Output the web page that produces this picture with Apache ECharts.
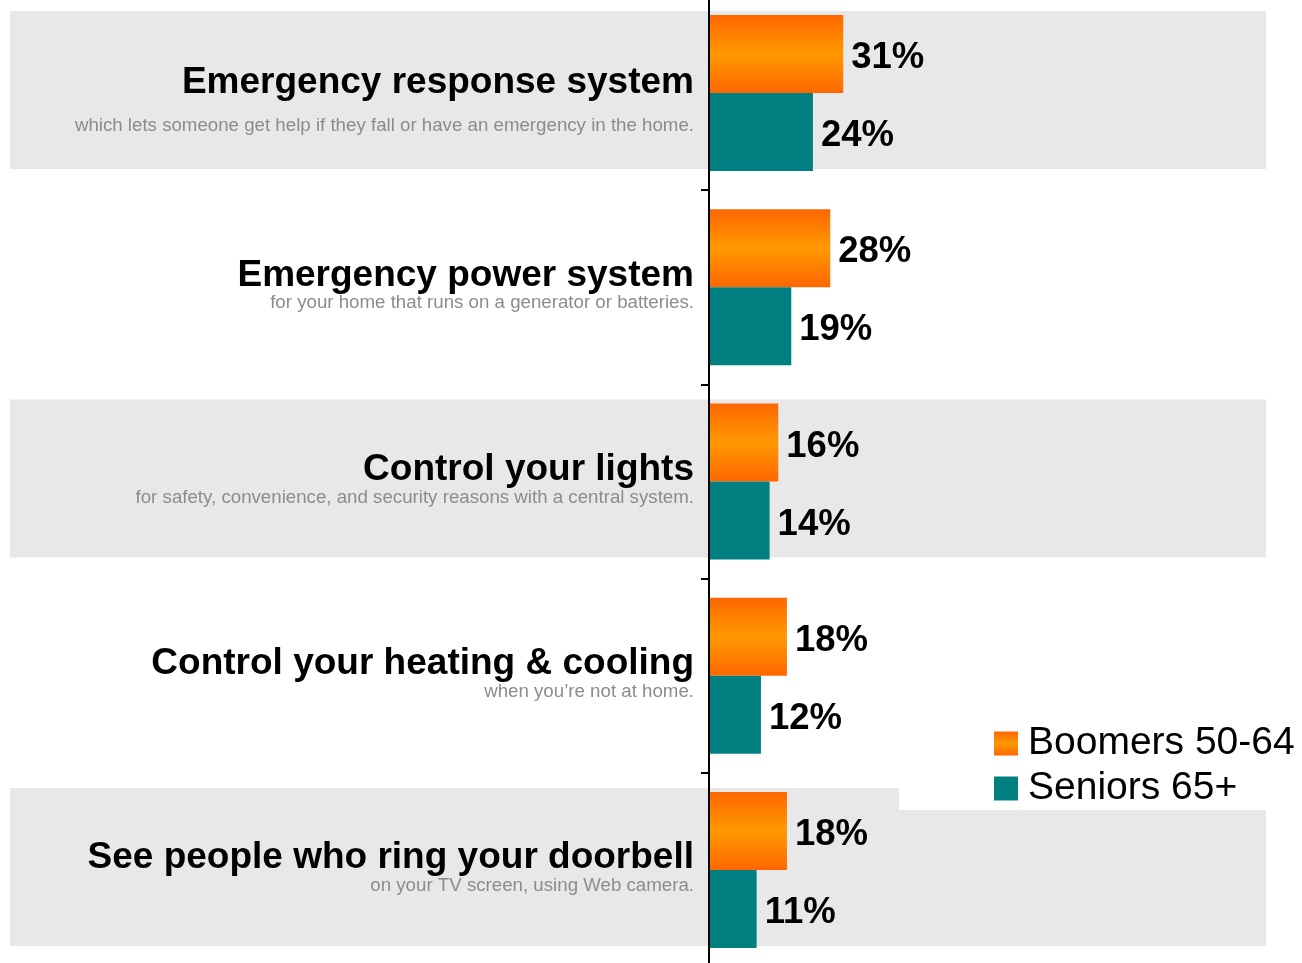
<!DOCTYPE html>
<html>
<head>
<meta charset="utf-8">
<script src="https://cdn.jsdelivr.net/npm/echarts@6/dist/echarts.min.js"></script>
<style>
  html, body { margin: 0; padding: 0; background: #fff; overflow: hidden; }
  /* the drawing surface runs a few pixels past the window at top and bottom */
  #chart { position: absolute; left: 0; top: -8px; width: 1302px; height: 979px; }
</style>
</head>
<body>
<div id="chart"></div>
<script>
// Smart-home features people would like to have, by age group (percent)
const titles = [
  'Emergency response system',
  'Emergency power system',
  'Control your lights',
  'Control your heating & cooling',
  'See people who ring your doorbell'
];
const subtitles = [
  'which lets someone get help if they fall or have an emergency in the home.',
  'for your home that runs on a generator or batteries.',
  'for safety, convenience, and security reasons with a central system.',
  'when you\u2019re not at home.',
  'on your TV screen, using Web camera.'
];
const boomers = [31, 28, 16, 18, 18];
const seniors = [24, 19, 14, 12, 11];
const seriesNames = ['Boomers 50-64', 'Seniors 65+'];
// alternate rows carry a shaded band
const bandRows = [1, '-', 1, '-', 1];

const FONT = '"Liberation Sans", Arial, sans-serif';

const orangeFill = new echarts.graphic.LinearGradient(0, 0, 0, 1, [
  { offset: 0, color: '#ff6600' },
  { offset: 0.5, color: '#ff9900' },
  { offset: 1, color: '#ff6600' }
]);

const valueLabel = {
  show: true, position: 'right', distance: 8, offset: [0, 4],
  formatter: '{c}%',
  fontFamily: FONT, fontSize: 36.5, fontWeight: 'bold', color: '#000'
};

const chart = echarts.init(document.getElementById('chart'), null, { renderer: 'canvas' });

chart.setOption({
  animation: false,
  backgroundColor: '#ffffff',
  textStyle: { fontFamily: FONT },
  grid: [
    { left: 709, width: 433, top: 4, bottom: 4, containLabel: false },
    { left: 10, right: 36, top: 1, bottom: 7, containLabel: false }
  ],
  xAxis: [
    { gridIndex: 0, type: 'value', min: 0, max: 100, show: false },
    { gridIndex: 1, type: 'value', min: 0, max: 1, show: false }
  ],
  yAxis: [
    {
      gridIndex: 0,
      type: 'category',
      inverse: true,
      data: titles,
      z: 5,
      axisLine: { show: true, lineStyle: { color: '#000', width: 2 } },
      axisTick: { show: true, inside: false, length: 8, lineStyle: { color: '#000', width: 2 } },
      axisLabel: {
        margin: 15,
        align: 'right',
        formatter: function (value, idx) {
          if (idx === 0) {
            return '{e| }\n{t|' + value + '}\n{g| }\n{s|' + subtitles[idx] + '}';
          }
          return '{t|' + value + '}\n{s|' + subtitles[idx] + '}';
        },
        rich: {
          t: { fontFamily: FONT, fontSize: 37, fontWeight: 'bold', color: '#000', lineHeight: 32, align: 'right' },
          s: { fontFamily: FONT, fontSize: 18.7, color: '#8c8c8c', lineHeight: 24, align: 'right' },
          e: { fontSize: 10, lineHeight: 19 },
          g: { fontSize: 10, lineHeight: 15 }
        }
      }
    },
    {
      gridIndex: 1,
      type: 'category',
      inverse: true,
      data: titles,
      show: false
    }
  ],
  legend: {
    orient: 'vertical',
    left: 899,
    top: 722,
    padding: [10, 20, 2, 95],
    backgroundColor: '#ffffff',
    itemWidth: 24,
    itemHeight: 24,
    itemGap: 6,
    icon: 'rect',
    data: seriesNames,
    textStyle: { fontFamily: FONT, fontSize: 39, color: '#000', lineHeight: 36, padding: [0, 0, 0, 5] }
  },
  series: [
    {
      name: 'band',
      type: 'bar',
      xAxisIndex: 1,
      yAxisIndex: 1,
      data: bandRows,
      barWidth: 158,
      silent: true,
      z: 0,
      itemStyle: { color: '#e8e8e8' }
    },
    {
      name: seriesNames[0],
      type: 'bar',
      xAxisIndex: 0,
      yAxisIndex: 0,
      data: boomers,
      barWidth: 78,
      barGap: '0%',
      z: 3,
      itemStyle: { color: orangeFill },
      label: valueLabel
    },
    {
      name: seriesNames[1],
      type: 'bar',
      xAxisIndex: 0,
      yAxisIndex: 0,
      data: seniors,
      barWidth: 78,
      barGap: '0%',
      z: 3,
      itemStyle: { color: '#008080' },
      label: valueLabel
    }
  ]
});
</script>
</body>
</html>
